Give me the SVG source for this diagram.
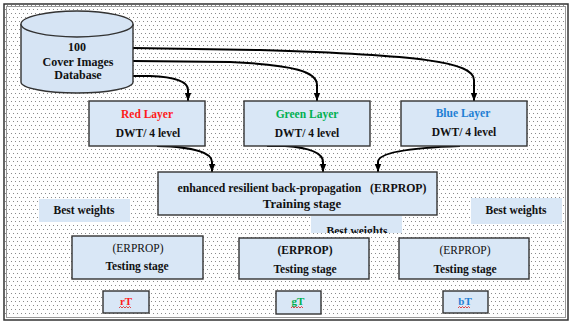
<svg xmlns="http://www.w3.org/2000/svg" width="570" height="322" viewBox="0 0 570 322">
<defs>
<pattern id="dots" width="8" height="8" patternUnits="userSpaceOnUse">
<rect x="1" y="1" width="1" height="1" fill="#8a8a8a"/>
<rect x="5" y="1" width="1" height="1" fill="#8a8a8a"/>
<rect x="3" y="5" width="1" height="1" fill="#8a8a8a"/>
<rect x="7" y="5" width="1" height="1" fill="#8a8a8a"/>
</pattern>
<marker id="arr" viewBox="0 0 10 10" refX="10" refY="5" markerWidth="8" markerHeight="8" markerUnits="userSpaceOnUse" orient="auto">
<path d="M0,1 L10,5 L0,9 z" fill="#000"/>
</marker>
<clipPath id="clipBW"><rect x="300" y="214" width="110" height="19"/></clipPath>
</defs>
<style>
.box{fill:#d9e7f6;stroke:#333;stroke-width:1.4}
.lbl{fill:#d9e7f6;stroke:none}
.t{font-family:"Liberation Serif","Times New Roman",serif;font-size:11.5px;font-weight:bold;fill:#111;text-anchor:middle}
.n{font-weight:normal}
.con{fill:none;stroke:#000;stroke-width:2;marker-end:url(#arr)}
.sq{fill:none;stroke:#e02020;stroke-width:0.8}
</style>
<rect x="0" y="0" width="570" height="322" fill="#fff"/>
<rect x="5" y="5" width="562" height="314" fill="url(#dots)"/>
<rect x="4" y="4" width="564" height="316" fill="none" stroke="#333" stroke-width="1.5"/>
<rect x="6.5" y="6.5" width="559" height="311" fill="none" stroke="#999" stroke-width="1"/>

<g id="connectors">
<path class="con" d="M133,48 L260,50 C420,55 474,62 474,80 L474,101"/>
<path class="con" d="M133,61 L230,62 C295,65 317,72 317,85 L317,101"/>
<path class="con" d="M133,76 L150,76 C176,77 188,82 188,90 L188,101"/>
<path class="con" d="M157,146 C198,147 212,154 212,162 L212,172"/>
<path class="con" d="M267,146 L285,146 C313,148 323,154 323,162 L323,172"/>
<path class="con" d="M460,146 C402,148 378,154 378,162 L378,172"/>
</g>

<g id="database">
<path d="M21,24 L21,82 A56,11 0 0 0 133,82 L133,24" fill="#d6e4f4" stroke="#333" stroke-width="1.4"/>
<ellipse cx="77" cy="24" rx="56" ry="13" fill="#d6e4f4" stroke="#333" stroke-width="1.4"/>
<text class="t" x="77" y="51" style="font-size:12px">100</text>
<text class="t" x="78" y="66" style="font-size:12px">Cover Images</text>
<text class="t" x="78" y="79" style="font-size:12px">Database</text>
</g>

<g id="red-layer">
<rect class="box" x="89" y="101" width="116" height="45"/>
<text class="t" x="147" y="118" style="fill:#ff1a1a">Red Layer</text>
<text class="t" x="148" y="137">DWT/ 4 level</text>
</g>
<g id="green-layer">
<rect class="box" x="244" y="101" width="126" height="45"/>
<text class="t" x="307" y="118" style="fill:#00b050">Green Layer</text>
<text class="t" x="307" y="137">DWT/ 4 level</text>
</g>
<g id="blue-layer">
<rect class="box" x="401" y="101" width="126" height="45"/>
<text class="t" x="463" y="117" style="fill:#1f7fd4">Blue Layer</text>
<text class="t" x="464" y="136">DWT/ 4 level</text>
</g>

<g id="training">
<rect class="box" x="158" y="172" width="279" height="43"/>
<text class="t" x="302" y="192" style="font-size:11.8px" xml:space="preserve">enhanced resilient back-propagation   (ERPROP)</text>
<text class="t" x="302" y="208" style="font-size:12.8px">Training stage</text>
</g>

<g id="best-weights-left">
<rect class="lbl" x="39" y="199" width="91" height="23"/>
<text class="t" x="84" y="214">Best weights</text>
</g>
<g id="best-weights-mid">
<rect class="lbl" x="311" y="216" width="91" height="17"/>
<text class="t" x="357" y="235" clip-path="url(#clipBW)">Best weights</text>
</g>
<g id="best-weights-right">
<rect class="lbl" x="471" y="198" width="91" height="26"/>
<text class="t" x="516" y="214">Best weights</text>
</g>

<g id="testing-red">
<rect class="box" x="72" y="236" width="131" height="43"/>
<text class="t n" x="138" y="252">(ERPROP)</text>
<text class="t" x="137" y="270">Testing stage</text>
</g>
<g id="testing-green">
<rect class="box" x="239" y="238" width="130" height="41"/>
<text class="t" x="305" y="254">(ERPROP)</text>
<text class="t" x="305" y="273">Testing stage</text>
</g>
<g id="testing-blue">
<rect class="box" x="399" y="238" width="130" height="41"/>
<text class="t n" x="465" y="254">(ERPROP)</text>
<text class="t" x="465" y="273">Testing stage</text>
</g>

<g id="rT">
<rect class="box" x="103" y="291" width="46" height="22"/>
<text class="t" x="126" y="305" style="font-size:11px;fill:#ff1a1a">rT</text>
<path class="sq" d="M119,308 l1.5,-1.5 l1.5,1.5 l1.5,-1.5 l1.5,1.5 l1.5,-1.5 l1.5,1.5 l1.5,-1.5 l1.5,1.5"/>
</g>
<g id="gT">
<rect class="box" x="276" y="291" width="45" height="23"/>
<text class="t" x="298" y="305" style="font-size:11px;fill:#00b050">gT</text>
<path class="sq" d="M291,308 l1.5,-1.5 l1.5,1.5 l1.5,-1.5 l1.5,1.5 l1.5,-1.5 l1.5,1.5 l1.5,-1.5 l1.5,1.5"/>
</g>
<g id="bT">
<rect class="box" x="443" y="291" width="45" height="22"/>
<text class="t" x="465" y="305" style="font-size:11px;fill:#1f7fd4">bT</text>
<path class="sq" d="M458,308 l1.5,-1.5 l1.5,1.5 l1.5,-1.5 l1.5,1.5 l1.5,-1.5 l1.5,1.5 l1.5,-1.5 l1.5,1.5"/>
</g>
</svg>
